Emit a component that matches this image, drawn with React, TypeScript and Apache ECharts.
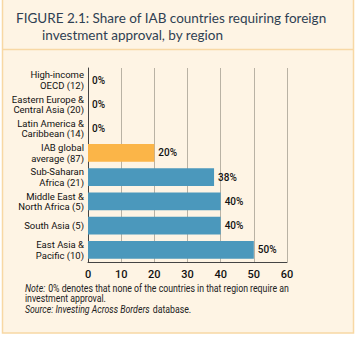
import React, { useEffect, useRef } from "react";
import * as echarts from "echarts";

const categories = [
  "High-income\nOECD (12)",
  "Eastern Europe &\nCentral Asia (20)",
  "Latin America &\nCaribbean (14)",
  "IAB global\naverage (87)",
  "Sub-Saharan\nAfrica (21)",
  "Middle East &\nNorth Africa (5)",
  "South Asia (5)",
  "East Asia &\nPacific (10)",
];
const values = [0, 0, 0, 20, 38, 40, 40, 50];
const highlightIndex = 3;
const xTicks = [0, 10, 20, 30, 40, 50, 60];

const NARROW = "Roboto, 'Liberation Sans', sans-serif";

export default function App() {
  const ref = useRef<HTMLDivElement>(null);
  useEffect(() => {
    if (!ref.current) return;
    const chart = echarts.init(ref.current, null, { renderer: "svg" });
    chart.setOption({
      animation: false,
      backgroundColor: "#ffffff",
      graphic: [
        {
          type: "rect",
          z: -10,
          shape: { x: 2.5, y: -2, width: 351, height: 335 },
          style: { fill: "#fef4e4", stroke: "#f8d8a4", lineWidth: 1.5 },
        },
        {
          type: "line",
          z: -9,
          shape: { x1: 2.5, y1: 49.5, x2: 353.5, y2: 49.5 },
          style: { stroke: "#f8d8a4", lineWidth: 1.5 },
        },
        {
          type: "text",
          x: 16,
          y: 11,
          style: {
            text: "FIGURE 2.1: Share of IAB countries requiring foreign",
            font: "13.5px Lato, sans-serif",
            fill: "#2f3f52",
          },
        },
        {
          type: "text",
          x: 42,
          y: 28,
          style: {
            text: "investment approval, by region",
            font: "13.5px Lato, sans-serif",
            fill: "#2f3f52",
          },
        },
        {
          type: "text",
          x: 25,
          y: 283,
          scaleX: 0.875,
          style: {
            text:
              "{i|Note:} {n|0% denotes that none of the countries in that region require an}\n{n|investment approval.}\n{i|Source: Investing Across Borders} {n|database.}",
            lineHeight: 10.5,
            rich: {
              i: { fontFamily: NARROW, fontSize: 10, fontStyle: "italic", fill: "#222", lineHeight: 10.5 },
              n: { fontFamily: NARROW, fontSize: 10, fill: "#222", lineHeight: 10.5 },
            },
          },
        },
      ],
      grid: { left: 88, right: 69, top: 68, height: 194, containLabel: false },
      xAxis: {
        type: "value",
        min: 0,
        max: 60,
        interval: 10,
        axisLine: { show: true, lineStyle: { color: "#444", width: 1 } },
        axisTick: { show: false },
        axisLabel: {
          color: "#111",
          fontFamily: NARROW,
          fontSize: 11,
          fontWeight: 500,
          margin: 7,
          formatter: (v: number) => (xTicks.includes(v) ? String(v) : ""),
        },
        splitLine: { show: true, lineStyle: { color: "#b9b2a4", width: 1 } },
      },
      yAxis: {
        type: "category",
        data: categories,
        inverse: true,
        axisLine: { show: true, lineStyle: { color: "#444", width: 1 } },
        axisTick: { show: false },
        axisLabel: {
          color: "#111",
          fontFamily: NARROW,
          fontSize: 9.5,
          lineHeight: 10.5,
          margin: 4,
          align: "right",
        },
      },
      series: [
        {
          type: "bar",
          data: values.map((v, i) => ({
            value: v,
            itemStyle: { color: i === highlightIndex ? "#fbb548" : "#4b98bc" },
          })),
          barCategoryGap: "27%",
          label: {
            show: true,
            position: "right",
            distance: 4,
            formatter: "{c}%",
            color: "#111",
            fontFamily: NARROW,
            fontSize: 10,
            fontWeight: 500,
          },
        },
      ],
    });
    return () => chart.dispose();
  }, []);
  return (
    <div
      ref={ref}
      style={{ position: "absolute", left: 0, top: 0, width: 356, height: 337 }}
    />
  );
}
